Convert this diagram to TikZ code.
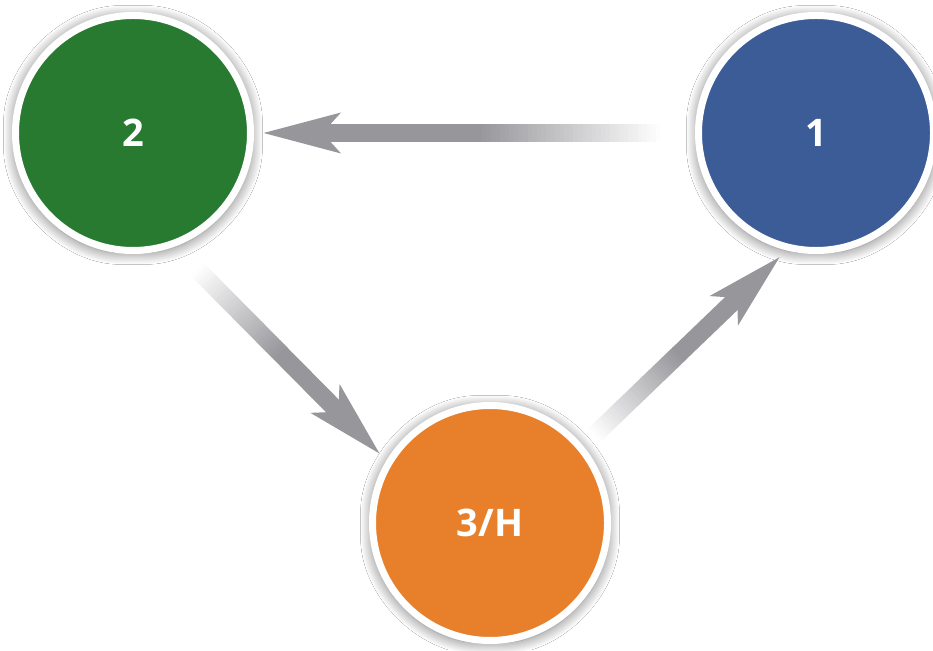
\documentclass[tikz,border=0pt]{standalone}
\usepackage{fontspec}
\setsansfont{Open Sans}
\usetikzlibrary{arrows.meta, positioning, calc, shadows.blur}
\definecolor{stagegreen}{RGB}{41,122,49}
\definecolor{stageblue}{RGB}{59,92,150}
\definecolor{stageorange}{RGB}{232,128,43}
\definecolor{arrowgray}{RGB}{150,150,155}

\begin{document}
\begin{tikzpicture}[
        x=1pt, y=1pt,
        node distance=441pt,
        stage/.style={circle, draw=white, line width=7pt, minimum size=235pt, inner sep=0pt, text=white,
            font=\sffamily\bfseries\fontsize{38}{40}\selectfont,
            blur shadow={shadow xshift=0pt, shadow yshift=-2pt, shadow blur radius=12pt,
                shadow blur steps=20, shadow opacity=55, shadow blur extra rounding=12pt}},
        shaft/.style={line width=18pt, line cap=butt},
        arrow/.style={-{Stealth[length=76pt, width=38pt, inset=16pt]}, line width=18pt, arrowgray}
    ]
        \fill[white] (0,0) rectangle (933,650);
        \useasboundingbox (0,0) rectangle (933,650);

        \node[stage, fill=stagegreen] (two) at (133,517) {2};
        \node[stage, fill=stageblue, right=of two] (one) {1};
        \node[stage, fill=stageorange] (three) at (490,127) {3/H};

        % free ends of the connectors
        \coordinate (t1) at ($(one.center)+(180:151)$);
        \coordinate (h1) at ($(two.center)+(0:129)$);
        \coordinate (t2) at ($(two.center)+(-65:149)$);
        \coordinate (h2) at ($(three.center)+(148:129)$);
        \coordinate (t3) at ($(three.center)+(40:134)$);
        \coordinate (h3) at ($(one.center)+(-106:128)$);

        \foreach \s/\e in {t1/h1, t2/h2, t3/h3} {
            \foreach \k [evaluate=\k as \p using int(2.5*\k)] in {0,...,39}
                \draw[shaft, arrowgray!\p!white] ($(\s)!\k/88!(\e)$) -- ($(\s)!{(\k+1.5)/88}!(\e)$);
            \draw[arrow] ($(\s)!40/88!(\e)$) -- (\e);
        }
    \end{tikzpicture}
\end{document}
